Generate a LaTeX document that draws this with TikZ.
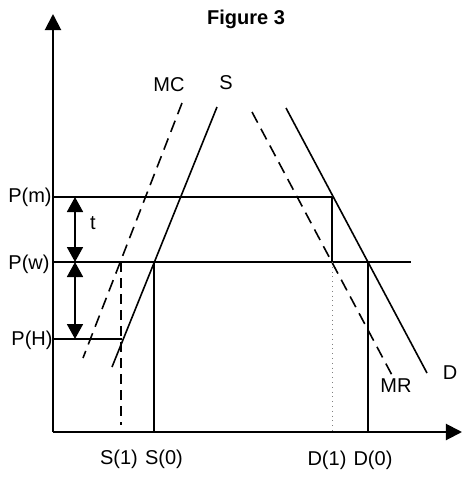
\documentclass[tikz,border=0pt]{standalone}
\usepackage{fontspec}
\setmainfont{Liberation Sans}
\usetikzlibrary{arrows.meta}

\begin{document}
\begin{tikzpicture}[
    x=0.5pt, y=-0.5pt,
    every node/.style={font=\fontsize{10}{12}\selectfont, inner sep=0pt},
    % Axes: thick, with a filled triangle tip
    axis/.style={line width=1pt, -{Triangle[width=8pt, length=8pt]}},
    % Supply and demand curves
    curve/.style={line width=0.8pt},
    mcurve/.style={line width=0.8pt, dash pattern=on 6pt off 3.5pt},
    % Price levels and quantity drops
    level/.style={line width=0.9pt},
    drop/.style={line width=0.8pt, dash pattern=on 5pt off 3pt},
    guide/.style={gray, line width=0.4pt, dotted},
    % Double arrow between price levels
    gap/.style={line width=0.9pt,
        {Triangle[width=8pt, length=7.5pt]}-{Triangle[width=8pt, length=7.5pt]}},
]

\useasboundingbox (0,0) rectangle (462,479);

% ====================================================
% AXES
% ====================================================
\coordinate (O) at (53,432);
\coordinate (ytop) at (53,14);
\coordinate (xend) at (462,432);
\draw[axis] (O) -- (ytop);
\draw[axis] (O) -- (xend);

\node[font=\fontsize{10}{12}\selectfont\bfseries] (title) at (246,19) {Figure 3};

% ====================================================
% CURVES
% ====================================================
\coordinate (S-top) at (217,107);
\coordinate (S-bot) at (112,367);
\coordinate (MC-top) at (182,103);
\coordinate (MC-bot) at (83,358);
\coordinate (D-top) at (286,108);
\coordinate (D-bot) at (427,373);
\coordinate (MR-top) at (252,112);
\coordinate (MR-bot) at (393,377);

\draw[curve] (S-top) -- (S-bot);
\draw[mcurve] (MC-top) -- (MC-bot);
\draw[curve] (D-top) -- (D-bot);
\draw[mcurve] (MR-top) -- (MR-bot);

\node (S-lab) at (226,83) {S};
\node (MC-lab) at (169,85) {MC};
\node (D-lab) at (450,373) {D};
\node (MR-lab) at (396,386) {MR};

% ====================================================
% PRICE LEVELS
% ====================================================
\coordinate (Pm) at (53,197);
\coordinate (Pw) at (53,262);
\coordinate (PH) at (53,339);
\coordinate (m-D1) at (332,197);
\coordinate (w-end) at (411,262);
\coordinate (H-S1) at (122,339);

\draw[level] (Pm) -- (m-D1);
\draw[level] (Pw) -- (w-end);
\draw[level] (PH) -- (H-S1);

\node[anchor=east] (Pm-lab) at (52,197) {P(m)};
\node[anchor=east] (Pw-lab) at (50,264) {P(w)};
\node[anchor=east] (PH-lab) at (53,340) {P(H)};

% ====================================================
% QUANTITIES
% ====================================================
\coordinate (w-S1) at (121,262);
\coordinate (S1-foot) at (121,425);
\coordinate (w-S0) at (154,262);
\coordinate (S0-foot) at (154,432);
\coordinate (w-D1) at (332,262);
\coordinate (D1-foot) at (332,432);
\coordinate (w-D0) at (368,262);
\coordinate (D0-foot) at (368,432);

\draw[drop] (w-S1) -- (S1-foot);
\draw[level] (w-S0) -- (S0-foot);
\draw[level] (m-D1) -- (w-D1);
\draw[guide] (w-D1) -- (D1-foot);
\draw[level] (w-D0) -- (D0-foot);

\node (S1-lab) at (119,459) {S(1)};
\node (S0-lab) at (164,459) {S(0)};
\node (D1-lab) at (327,460) {D(1)};
\node (D0-lab) at (373,460) {D(0)};

% ====================================================
% PRICE GAPS
% ====================================================
\coordinate (gap-m) at (75,197);
\coordinate (gap-w) at (75,262);
\coordinate (gap-H) at (75,339);
\draw[gap] (gap-w) -- (gap-m);
\draw[gap] (gap-w) -- (gap-H);
\node (t-lab) at (93,223) {t};

\end{tikzpicture}
\end{document}
